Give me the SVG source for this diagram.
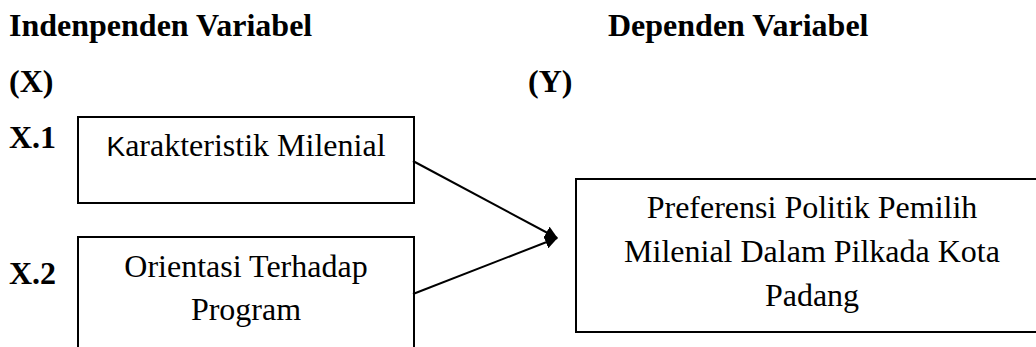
<svg xmlns="http://www.w3.org/2000/svg" width="1036" height="347" viewBox="0 0 1036 347">
<style>
.h{font-family:"Liberation Serif","Times New Roman",serif;font-weight:bold;font-size:32px;fill:#000}
.t{font-family:"Liberation Serif","Times New Roman",serif;font-size:32px;fill:#000;text-anchor:middle}
.box{fill:#fff;stroke:#000;stroke-width:2}
.conn{stroke:#000;stroke-width:2;fill:none}
</style>
<defs>
<marker id="ah" viewBox="0 0 12 12" refX="11" refY="6" markerWidth="13" markerHeight="13" markerUnits="userSpaceOnUse" orient="auto"><path d="M0,0 L12,6 L0,12 z" fill="#000"/></marker>
</defs>
<rect width="1036" height="347" fill="#fff"/>
<g id="headers">
<text class="h" x="9" y="36">Indenpenden Variabel</text>
<text class="h" x="9" y="92">(X)</text>
<text class="h" x="608" y="36">Dependen Variabel</text>
<text class="h" x="528" y="92">(Y)</text>
<text class="h" x="9" y="148">X.1</text>
<text class="h" x="9" y="284">X.2</text>
</g>
<g id="x1">
<rect class="box" x="78" y="117" width="336" height="86"/>
<text class="t" x="246" y="156"><tspan font-family="'Liberation Sans',Arial,sans-serif" font-size="28">K</tspan>arakteristik Milenial</text>
</g>
<g id="x2">
<rect class="box" x="78" y="237" width="336" height="120"/>
<text class="t" x="246" y="277">Orientasi Terhadap</text>
<text class="t" x="246" y="320">Program</text>
</g>
<g id="y">
<rect class="box" x="576" y="179" width="480" height="153"/>
<text class="t" x="812" y="218">Preferensi Politik Pemilih</text>
<text class="t" x="812" y="262">Milenial Dalam Pilkada Kota</text>
<text class="t" x="812" y="306">Padang</text>
</g>
<g id="connectors">
<line class="conn" x1="413" y1="161" x2="557" y2="238" marker-end="url(#ah)"/>
<line class="conn" x1="413" y1="294" x2="557" y2="238" marker-end="url(#ah)"/>
</g>
</svg>
